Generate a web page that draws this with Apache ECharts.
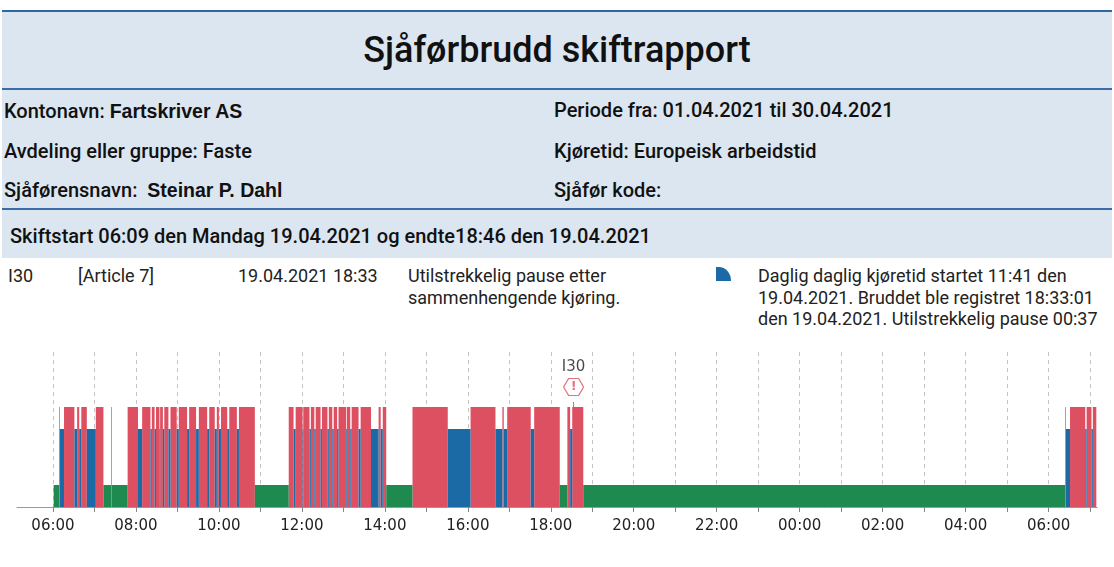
<!DOCTYPE html>
<html>
<head>
<meta charset="utf-8">
<script src="https://cdn.jsdelivr.net/npm/echarts@6/dist/echarts.min.js"></script>
<style>
    body { margin: 0; width: 1114px; height: 567px; background: #fff; font-family: Roboto, sans-serif; color: #111; position: relative; overflow: hidden; }
    .band { position: absolute; left: 2px; top: 10px; width: 1110px; height: 248px; background: #dce6f0; border-top: 2px solid #2f67a0; box-sizing: border-box; }
    .rule { position: absolute; left: 2px; width: 1110px; height: 2px; background: #3a6da6; }
    .t { position: absolute; white-space: nowrap; line-height: 22px; }
    .info { font-size: 20px; font-weight: 500; }
    .val { font-family: "Liberation Sans", Arial, sans-serif; font-weight: bold; font-size: 19.5px; }
    .row { font-size: 18px; color: #222; line-height: 21.5px; }
    #title { position: absolute; left: 0; width: 1114px; top: 29px; text-align: center; font-size: 36px; font-weight: 500; line-height: 42px; }
    #icon { position: absolute; left: 716px; top: 267px; width: 15px; height: 14px; background: #1b6aa6; border-top-right-radius: 80% 100%; }
    #main__chart { position: absolute; left: 0; top: 330px; width: 1114px; height: 237px; }
</style>
</head>
<body>
<div class="band"></div>
<div class="rule" style="top:88px"></div>
<div class="rule" style="top:208px"></div>
<div id="title">Sjåførbrudd skiftrapport</div>

<div class="t info" style="left:4px;top:100px">Kontonavn: <span class="val">Fartskriver AS</span></div>
<div class="t info" style="left:554px;top:99px">Periode fra: 01.04.2021 til 30.04.2021</div>
<div class="t info" style="left:4px;top:140px">Avdeling eller gruppe: Faste</div>
<div class="t info" style="left:554px;top:140px">Kjøretid: Europeisk arbeidstid</div>
<div class="t info" style="left:4px;top:179px">Sjåførensnavn:&nbsp; <span class="val">Steinar P. Dahl</span></div>
<div class="t info" style="left:554px;top:179px">Sjåfør kode:</div>
<div class="t info" style="left:10px;top:225px">Skiftstart 06:09 den Mandag 19.04.2021 og endte18:46 den 19.04.2021</div>

<div class="t row" style="left:8px;top:265px">I30</div>
<div class="t row" style="left:78px;top:265px">[Article 7]</div>
<div class="t row" style="left:238px;top:265px">19.04.2021 18:33</div>
<div class="t row" style="left:408px;top:265px">Utilstrekkelig pause etter<br>sammenhengende kjøring.</div>
<div id="icon"></div>
<div class="t row" style="left:758px;top:265px">Daglig daglig kjøretid startet 11:41 den<br>19.04.2021. Bruddet ble registret 18:33:01<br>den 19.04.2021. Utilstrekkelig pause 00:37</div>

<div id="main__chart"></div>

<script>
// activity segments: each one lasts until the next start (times roll over midnight)
const segStart = [
    '06:01', '06:09', '06:10', '06:16', '06:31', '06:35', '06:38', '06:41', '06:49', '07:02',
    '07:13', '07:24', '07:25', '07:48', '08:03', '08:09', '08:21', '08:23', '08:27', '08:29',
    '08:34', '08:35', '08:39', '08:41', '08:47', '08:50', '08:59', '09:02', '09:14', '09:17',
    '09:27', '09:31', '09:43', '09:46', '09:54', '09:57', '10:00', '10:03', '10:12', '10:15',
    '10:26', '10:29', '10:52', '11:41', '11:48', '11:51', '12:01', '12:02', '12:11', '12:13',
    '12:18', '12:20', '12:27', '12:29', '12:37', '12:39', '12:44', '12:46', '12:51', '12:53',
    '13:04', '13:05', '13:10', '13:12', '13:22', '13:25', '13:40', '13:51', '13:54', '13:57',
    '14:02', '14:40', '15:31', '16:04', '16:40', '16:50', '16:52', '16:57', '17:31', '17:36',
    '18:13', '18:24', '18:28', '18:31', '18:47', '06:24', '06:25', '06:31', '06:53', '06:55',
    '07:02', '07:04'
];
const segType = [
    'R', 'D', 'W', 'D', 'W', 'D', 'W', 'D', 'W', 'D',
    'R', 'D', 'R', 'D', 'W', 'D', 'W', 'D', 'W', 'D',
    'W', 'D', 'W', 'D', 'W', 'D', 'W', 'D', 'W', 'D',
    'W', 'D', 'W', 'D', 'W', 'D', 'W', 'D', 'W', 'D',
    'W', 'D', 'R', 'D', 'W', 'D', 'W', 'D', 'W', 'D',
    'W', 'D', 'W', 'D', 'W', 'D', 'W', 'D', 'W', 'D',
    'W', 'D', 'W', 'D', 'W', 'D', 'W', 'D', 'W', 'D',
    'R', 'D', 'W', 'D', 'W', 'D', 'W', 'D', 'W', 'D',
    'R', 'D', 'W', 'D', 'R', 'D', 'W', 'D', 'W', 'D',
    'W', 'D'
];
const lastEnd = '07:09';

const tickTimes = [
    '06:00', '07:00', '08:00', '09:00', '10:00', '11:00', '12:00', '13:00', '14:00', '15:00',
    '16:00', '17:00', '18:00', '19:00', '20:00', '21:00', '22:00', '23:00', '00:00', '01:00',
    '02:00', '03:00', '04:00', '05:00', '06:00', '07:00'
];
const labelTimes = ['06:00', '08:00', '10:00', '12:00', '14:00', '16:00', '18:00', '20:00', '22:00', '00:00', '02:00', '04:00', '06:00'];
const axisFrom = '05:08';
const axisTo = '07:10';

const violationCodes = ['I30'];
const violationTimes = ['18:33'];

const TYPES = {
    'D': {name: 'Kjøring', level: 100, color: '#dd5062'},
    'W': {name: 'Arbeid', level: 78, color: '#1b6aa6'},
    'R': {name: 'Hvile', level: 22, color: '#1f8a50'},
};

function hm(str) {
    let p = str.split(':');
    return +p[0] * 60 + +p[1];
}

// turn a list of clock times into minutes since midnight 19.04, adding a day on rollover
function toMinutes(list, from) {
    let out = [];
    let prev = from === undefined ? -1 : from;
    let day = prev >= 1440 ? 1 : 0;
    list.forEach(t => {
        let m = hm(t) + day * 1440;
        if (m < prev) { day++; m += 1440; }
        out.push(m);
        prev = m;
    });
    return out;
}

const startMin = toMinutes(segStart);
const endMin = startMin.slice(1).concat(toMinutes([lastEnd], startMin[startMin.length - 1]));
const tickMin = toMinutes(tickTimes);
const labelMin = toMinutes(labelTimes);
const xMin = hm(axisFrom);
const xMax = toMinutes([axisTo], tickMin[tickMin.length - 1] - 60)[0];
const violationMin = violationTimes.map(t => hm(t));

initShiftChart();

function initShiftChart() {
    let chartDom = document.getElementById('main__chart');
    let myChart = echarts.init(chartDom);
    let option;

    let series = Object.keys(TYPES).map(key => {
        let data = [];
        segType.forEach((t, i) => {
            if (t === key) data.push([startMin[i], endMin[i], TYPES[key].level]);
        });
        return {
            type: 'custom',
            name: TYPES[key].name,
            data: data,
            encode: {x: [0, 1], y: 2},
            itemStyle: {color: TYPES[key].color},
            renderItem: function (params, api) {
                let top = api.coord([api.value(0), api.value(2)]);
                let bottom = api.coord([api.value(1), 0]);
                return {
                    type: 'rect',
                    shape: {x: top[0], y: top[1], width: bottom[0] - top[0], height: bottom[1] - top[1]},
                    style: api.style(),
                };
            },
            z: 3,
        };
    });

    series.push({
        type: 'scatter',
        name: 'brudd',
        data: violationMin.map(m => [m, 120]),
        symbol: 'path://M0,5 L3,0 L9,0 L12,5 L9,10 L3,10 Z',
        symbolSize: [20, 17],
        itemStyle: {color: '#fff', borderColor: '#dd5062', borderWidth: 1.2},
        label: {show: true, position: 'inside', formatter: '!', color: '#dd5062', fontWeight: 'bold', fontSize: 13, fontFamily: 'DejaVu Sans'},
        markLine: {
            silent: true,
            symbol: 'none',
            label: {show: false},
            lineStyle: {color: '#e06a78', width: 1, type: 'solid'},
            data: violationMin.map(m => [{coord: [m, 100]}, {coord: [m, 105]}]),
        },
        z: 5,
    });
    series.push({
        type: 'scatter',
        name: 'kode',
        data: violationMin.map((m, i) => ({value: [m, 140], code: violationCodes[i]})),
        symbolSize: 0,
        label: {show: true, position: 'inside', formatter: p => p.data.code, color: '#1a1a1a', fontSize: 15, fontFamily: 'DejaVu Sans'},
        z: 5,
    });

    option = {
        animation: false,
        grid: {left: 17, right: 17, top: 22, bottom: 60},
        xAxis: {
            type: 'value',
            min: xMin,
            max: xMax,
            axisLine: {show: true, lineStyle: {color: '#999', width: 1}},
            axisTick: {show: true, length: 5, lineStyle: {color: '#888'}, customValues: tickMin},
            axisLabel: {
                customValues: labelMin,
                color: '#222',
                fontSize: 15,
                fontFamily: 'DejaVu Sans',
                margin: 12,
                formatter: function (v) {
                    let h = Math.floor(v / 60) % 24;
                    let m = v % 60;
                    return String(h).padStart(2, '0') + ':' + String(m).padStart(2, '0');
                },
            },
            splitLine: {show: true, lineStyle: {color: '#c4c4c4', type: [4, 4], width: 1}},
        },
        yAxis: {type: 'value', min: 0, max: 155, show: false, splitLine: {show: false}},
        series: series,
    };

    option && myChart.setOption(option);
}
</script>
</body>
</html>
